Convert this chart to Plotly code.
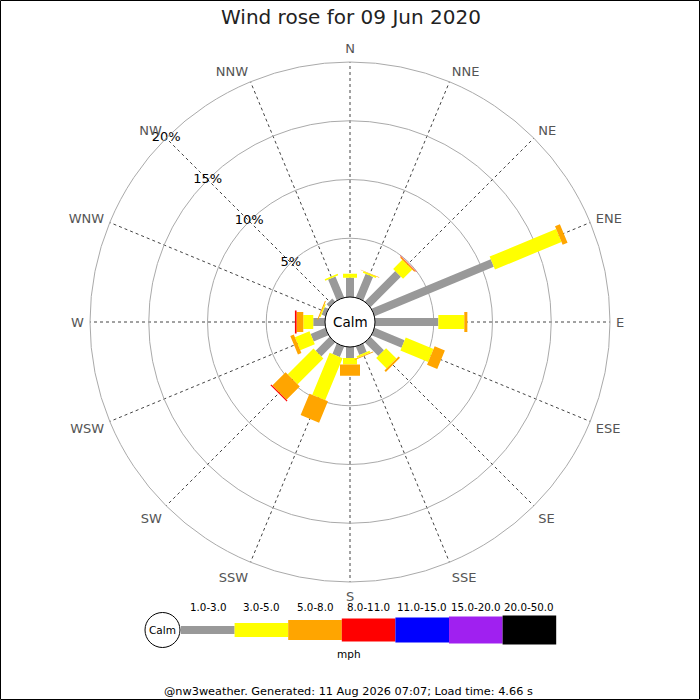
import math
import plotly.graph_objects as go

# ---------------- data ----------------
directions = ["N", "NNE", "NE", "ENE", "E", "ESE", "SE", "SSE",
              "S", "SSW", "SW", "WSW", "W", "WNW", "NW", "NNW"]
dir_angles = [i * 22.5 for i in range(16)]

speed_classes = ["1.0-3.0", "3.0-5.0", "5.0-8.0", "8.0-11.0",
                 "11.0-15.0", "15.0-20.0", "20.0-50.0"]
class_colors = ["#999999", "#ffff00", "#ffa500", "#ff0000",
                "#0000ff", "#a020f0", "#000000"]

# percentage of time per direction, per speed class
pct_1_3 = [1.64, 2.17, 3.66, 10.98, 5.39, 2.76, 1.62, 0.77,
           0.93, 0.96, 1.67, 1.36, 1.00, 0.35, 0.35, 1.93]
pct_3_5 = [0.34, 0.13, 1.10, 6.13, 2.21, 2.56, 1.25, 0.17,
           0.55, 3.87, 3.10, 1.34, 0.85, 0.10, 0.00, 0.13]
pct_5_8 = [0.00, 0.04, 0.10, 0.45, 0.26, 0.94, 0.17, 0.08,
           0.97, 1.97, 1.60, 0.32, 0.57, 0.08, 0.00, 0.00]
pct_8_11 = [0.00, 0.00, 0.05, 0.00, 0.00, 0.00, 0.00, 0.00,
            0.00, 0.00, 0.10, 0.00, 0.14, 0.00, 0.00, 0.00]
pct_11_15 = [0.0] * 16
pct_15_20 = [0.0] * 16
pct_20_50 = [0.0] * 16
series = [pct_1_3, pct_3_5, pct_5_8, pct_8_11, pct_11_15, pct_15_20, pct_20_50]

radial_ticks = [5, 10, 15, 20]
radial_labels = ["5%", "10%", "15%", "20%"]

# ---------------- geometry / style ----------------
W = H = 700
R_PX = 260.0          # outer radius in px
HOLE_PX = 25.0        # calm circle radius in px
R_MAX = 20.0
K = (R_PX - HOLE_PX) / R_MAX
CX, CY = 350.0, 322.0
half_widths = [4.0, 7.0, 10.0, 11.5, 12.5, 13.5, 14.5]  # bar half-width in px
FONT = "DejaVu Sans"


def to_r(p):
    return (p - HOLE_PX) / K


fig = go.Figure()

cum = [0.0] * 16
for ci, vals in enumerate(series):
    rr, tt = [], []
    h = half_widths[ci]
    for di in range(16):
        v = vals[di]
        if v <= 0:
            continue
        p0 = HOLE_PX + cum[di] * K
        p1 = HOLE_PX + (cum[di] + v) * K
        for along, perp in [(p0, -h), (p1, -h), (p1, h), (p0, h), (p0, -h)]:
            P = math.hypot(along, perp)
            rr.append(to_r(P))
            tt.append(dir_angles[di] + math.degrees(math.atan2(perp, along)))
        rr.append(None)
        tt.append(None)
        cum[di] += v
    if rr:
        fig.add_trace(go.Scatterpolar(
            r=rr, theta=tt, mode="lines", fill="toself",
            fillcolor=class_colors[ci], line=dict(width=0, color=class_colors[ci]),
            hoverinfo="skip", showlegend=False, connectgaps=False))

fig.add_trace(go.Scatterpolar(
    r=radial_ticks, theta=[315] * 4, mode="text", text=radial_labels,
    textfont=dict(family=FONT, size=13, color="#000"), cliponaxis=False,
    hoverinfo="skip", showlegend=False))

fig.update_layout(
    width=W, height=H,
    margin=dict(l=0, r=0, t=0, b=0),
    paper_bgcolor="white",
    font=dict(family=FONT),
    polar=dict(
        domain=dict(x=[(CX - R_PX) / W, (CX + R_PX) / W],
                    y=[1 - (CY + R_PX) / H, 1 - (CY - R_PX) / H]),
        hole=HOLE_PX / R_PX,
        bgcolor="white",
        radialaxis=dict(range=[0, R_MAX], tickvals=radial_ticks, showticklabels=False,
                        ticks="", showline=False, gridcolor="#aaaaaa", gridwidth=1,
                        angle=135),
        angularaxis=dict(rotation=90, direction="clockwise", tickmode="array",
                         tickvals=dir_angles, ticktext=directions,
                         ticks="outside", ticklen=3, tickcolor="rgba(0,0,0,0)",
                         tickfont=dict(family=FONT, size=13, color="#555555"),
                         showline=True, linecolor="#aaaaaa", linewidth=1,
                         gridcolor="#444444", griddash="dot", gridwidth=1),
    ),
    showlegend=False,
)


def px_x(x):
    return x / W


def px_y(y):
    return 1 - y / H


shapes = []
annotations = []


def label(text, x, y, size, color="#000"):
    annotations.append(dict(text=text, x=px_x(x), y=px_y(y), xref="paper", yref="paper",
                            xanchor="center", yanchor="middle", showarrow=False,
                            font=dict(family=FONT, size=size, color=color)))


# calm circle in centre
shapes.append(dict(type="circle", xref="paper", yref="paper",
                   x0=px_x(CX - HOLE_PX), x1=px_x(CX + HOLE_PX),
                   y0=px_y(CY + HOLE_PX), y1=px_y(CY - HOLE_PX),
                   fillcolor="white", line=dict(color="black", width=1)))
label("Calm", CX, CY, 13.5)

# legend
LY = 630
shapes.append(dict(type="circle", xref="paper", yref="paper",
                   x0=px_x(145), x1=px_x(180), y0=px_y(LY + 17.5), y1=px_y(LY - 17.5),
                   fillcolor="white", line=dict(color="black", width=1)))
label("Calm", 162.5, LY, 10.5)
x = 181.0
seg_w = 53.6
for ci, lab in enumerate(speed_classes):
    h = half_widths[ci]
    shapes.append(dict(type="rect", xref="paper", yref="paper",
                       x0=px_x(x), x1=px_x(x + seg_w), y0=px_y(LY + h), y1=px_y(LY - h),
                       fillcolor=class_colors[ci], line=dict(width=0)))
    label(lab, x + seg_w / 2, 607, 10.3)
    x += seg_w
label("mph", 349, 654, 10.5)

# title and footer
label("Wind rose for 09 Jun 2020", 351, 17, 20, "#222")
label("@nw3weather. Generated: 11 Aug 2026 07:07; Load time: 4.66 s", 348, 691, 11.3)

# border
shapes.append(dict(type="rect", xref="paper", yref="paper",
                   x0=0.5 / W, x1=1 - 0.5 / W, y0=0.5 / H, y1=1 - 0.5 / H,
                   line=dict(color="black", width=1), fillcolor="rgba(0,0,0,0)"))

fig.update_layout(shapes=shapes, annotations=annotations)
fig.write_html("out.html", config={"displayModeBar": False},
               post_script="document.body.style.margin='0';document.body.style.overflow='hidden';")
